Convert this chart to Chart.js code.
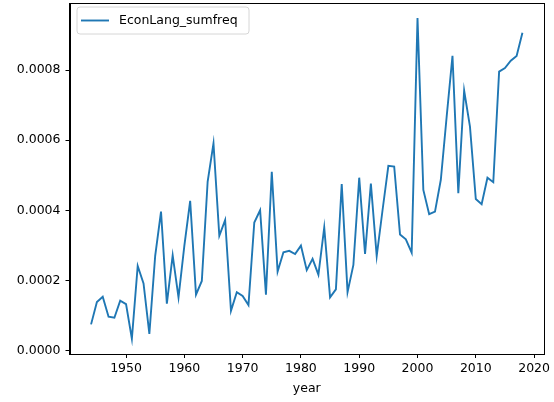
<!DOCTYPE html>
<html>
<head>
<meta charset="utf-8">
<script src="https://cdn.jsdelivr.net/npm/chart.js@4.4.0/dist/chart.umd.min.js"></script>
<style>
  html, body { margin: 0; padding: 0; background: #fff; }
  #wrap { width: 554px; height: 402px; }
</style>
</head>
<body>
<div id="wrap"><canvas id="mycanvas"></canvas></div>
<script>
var years = [];
for (var yr = 1944; yr <= 2018; yr++) years.push(yr);

var sumfreq = [
    0.000074, 0.000138, 0.000153, 0.000096, 0.000093, 0.000142, 0.000132, 0.000033, 0.000241, 0.000191,
    0.000047, 0.000270, 0.000396, 0.000133, 0.000271, 0.000151, 0.000298, 0.000427, 0.000159, 0.000198,
    0.000482, 0.000591, 0.000327, 0.000372, 0.000113, 0.000166, 0.000155, 0.000129, 0.000365, 0.000400,
    0.000159, 0.000510, 0.000225, 0.000280, 0.000284, 0.000275, 0.000299, 0.000229, 0.000261, 0.000216,
    0.000351, 0.000151, 0.000174, 0.000475, 0.000166, 0.000244, 0.000493, 0.000275, 0.000476, 0.000269,
    0.000400, 0.000527, 0.000525, 0.000331, 0.000317, 0.000279, 0.000949, 0.000458, 0.000389, 0.000396,
    0.000487, 0.000667, 0.000841, 0.000449, 0.000742, 0.000639, 0.000432, 0.000417, 0.000493, 0.000480,
    0.000796, 0.000806, 0.000827, 0.000841, 0.000907
];

var xTicks = [1950, 1960, 1970, 1980, 1990, 2000, 2010, 2020];
var yTicks = [0, 0.0002, 0.0004, 0.0006, 0.0008];
var seriesName = 'EconLang_sumfreq';

var points = [];
for (var i in years) {
    points.push({x: years[i], y: sumfreq[i]});
}

var fontFam = "'DejaVu Sans', sans-serif";
var fontSize = 12.5;

function noPad(scale) {
    scale.paddingTop = 0;
    scale.paddingBottom = 0;
    scale.paddingLeft = 0;
    scale.paddingRight = 0;
}

// top/right spines + matplotlib style legend
var framePlugin = {
    id: 'frame',
    afterDraw: function(chart) {
        var c = chart.ctx, a = chart.chartArea;
        c.save();
        c.strokeStyle = '#000';
        c.lineWidth = 1;
        c.strokeRect(Math.round(a.left) + 0.5, Math.round(a.top) + 0.5,
                     Math.round(a.right - a.left) - 1, Math.round(a.bottom - a.top));

        // legend
        var lx = 77, ly = 7, lw = 172, lh = 27, r = 3;
        c.beginPath();
        c.moveTo(lx + r, ly);
        c.arcTo(lx + lw, ly, lx + lw, ly + lh, r);
        c.arcTo(lx + lw, ly + lh, lx, ly + lh, r);
        c.arcTo(lx, ly + lh, lx, ly, r);
        c.arcTo(lx, ly, lx + lw, ly, r);
        c.closePath();
        c.fillStyle = 'rgba(255,255,255,0.8)';
        c.fill();
        c.strokeStyle = '#d6d6d6';
        c.lineWidth = 1;
        c.stroke();

        c.beginPath();
        c.moveTo(81, 20.5);
        c.lineTo(109, 20.5);
        c.strokeStyle = '#1f77b4';
        c.lineWidth = 1.9;
        c.stroke();

        c.fillStyle = '#000';
        c.font = fontSize + 'px ' + fontFam;
        c.textBaseline = 'middle';
        c.textAlign = 'left';
        c.fillText(chart.data.datasets[0].label, 119, 21);
        c.restore();
    }
};

var ctx = document.getElementById('mycanvas');

var lineChart = new Chart(ctx, {
    type: 'line',
    data: {
        datasets: [
            {
                label: seriesName,
                data: points,
                borderColor: '#1f77b4',
                backgroundColor: '#1f77b4',
                borderWidth: 1.9,
                pointRadius: 0,
                tension: 0,
                fill: false
            }
        ]
    },
    options: {
        responsive: true,
        maintainAspectRatio: false,
        animation: false,
        layout: { padding: { top: 3, right: 10, left: 0, bottom: 0 } },
        plugins: {
            legend: { display: false },
            tooltip: { enabled: false }
        },
        scales: {
            x: {
                type: 'linear',
                min: 1940.3,
                max: 2021.7,
                afterBuildTicks: function(scale) {
                    scale.ticks = xTicks.map(function(v) { return {value: v}; });
                },
                afterFit: function(scale) { scale.height = 48; noPad(scale); },
                grid: { drawOnChartArea: false, drawTicks: true, tickLength: 4, color: '#000' },
                border: { color: '#000', width: 1 },
                ticks: {
                    color: '#000',
                    padding: 3,
                    maxRotation: 0,
                    font: { family: fontFam, size: fontSize },
                    callback: function(v) { return String(v); }
                },
                title: {
                    display: true,
                    text: 'year',
                    color: '#000',
                    padding: { top: 0, bottom: 6 },
                    font: { family: fontFam, size: fontSize }
                }
            },
            y: {
                type: 'linear',
                min: -0.0000106,
                max: 0.000992,
                afterBuildTicks: function(scale) {
                    scale.ticks = yTicks.map(function(v) { return {value: v}; });
                },
                afterFit: function(scale) { scale.width = 69.5; noPad(scale); },
                grid: { drawOnChartArea: false, drawTicks: true, tickLength: 4, color: '#000' },
                border: { color: '#000', width: 1 },
                ticks: {
                    color: '#000',
                    padding: 5,
                    font: { family: fontFam, size: fontSize },
                    callback: function(v) { return Number(v).toFixed(4); }
                }
            }
        }
    },
    plugins: [framePlugin]
});
</script>
</body>
</html>
